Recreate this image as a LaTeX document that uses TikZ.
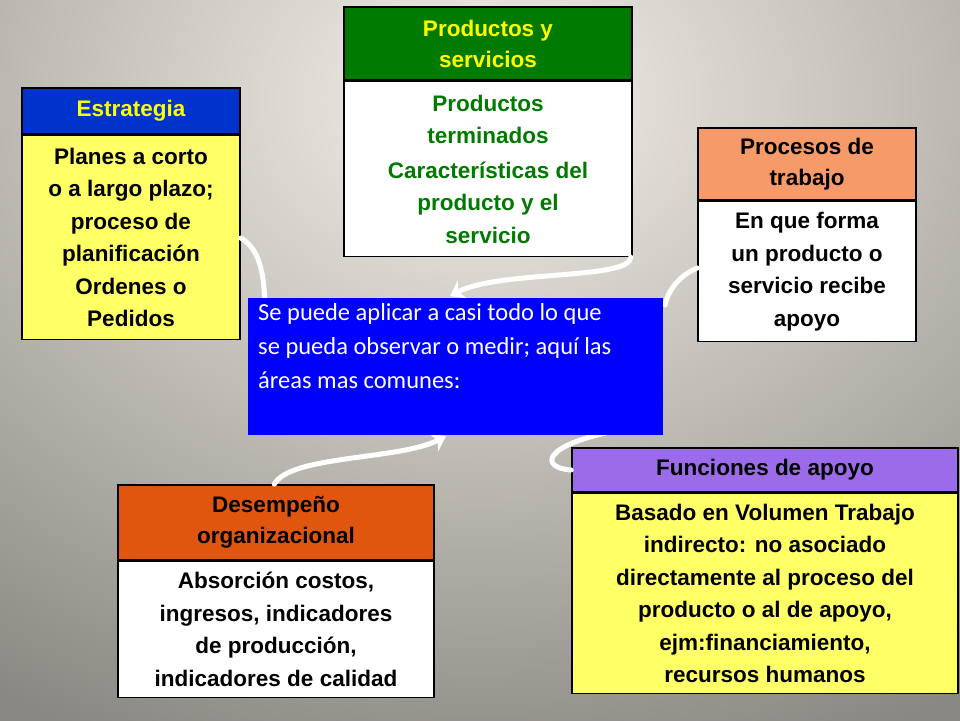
\documentclass[tikz,border=0pt]{standalone}
\usepackage{fontspec}
\setmainfont{Liberation Sans}
\newfontfamily\calfont{Carlito}
\usetikzlibrary{positioning,arrows.meta}
\definecolor{bgin}{HTML}{F2F0E8}
\definecolor{bgout}{HTML}{8A8882}
\definecolor{estblue}{HTML}{0033CC}
\definecolor{lightyel}{HTML}{FFFF66}
\definecolor{prodgreen}{HTML}{007A00}
\definecolor{procsalmon}{HTML}{F79A6A}
\definecolor{desorange}{HTML}{E0560E}
\definecolor{funcpurple}{HTML}{9B6BEA}
\definecolor{titleyel}{HTML}{FFFF00}
\begin{document}
\begin{tikzpicture}[x=1pt,y=-1pt,
    head/.style={draw,line width=1.5pt,inner sep=0pt,align=center,
      font=\bfseries\fontsize{22.5}{31}\selectfont},
    body/.style={draw,line width=1.5pt,inner sep=0pt,align=center,
      font=\bfseries\fontsize{22.5}{32.5}\selectfont},
    flow/.style={white,line width=5pt,line cap=round},
    flowtip/.style={flow,-{Stealth[length=14pt,width=20pt]}}]

    \useasboundingbox (0,0) rectangle (960,720);
    \begin{scope}
        \clip (0,0) rectangle (960,720);
        \shade[inner color=bgin,outer color=bgout] (-420,-600) rectangle (1380,800);
    \end{scope}

    % Cajas
    \node[head,fill=estblue,text=titleyel,minimum width=218,minimum height=46] (estH) at (131,111) {Estrategia};
    \node[body,fill=lightyel,minimum width=218,minimum height=204,below=0pt of estH] (estB)
      {Planes a corto\\o a largo plazo;\\proceso de\\planificación\\Ordenes o\\Pedidos};

    \node[head,fill=prodgreen,text=titleyel,minimum width=288,minimum height=73] (prodH) at (488,43.5) {Productos y\\servicios};
    \node[body,fill=white,text=prodgreen,minimum width=288,minimum height=175,below=0pt of prodH] (prodB)
      {Productos\\terminados\\[2pt]Características del\\producto y el\\servicio};

    \node[head,fill=procsalmon,minimum width=218,minimum height=72] (procH) at (807,164) {Procesos de\\trabajo};
    \node[body,fill=white,minimum width=218,minimum height=140,below=0pt of procH] (procB)
      {En que forma\\un producto o\\servicio recibe\\apoyo};

    \node[head,fill=desorange,minimum width=316,minimum height=75] (desH) at (276,522.5) {Desempeño\\organizacional};
    \node[body,fill=white,minimum width=316,minimum height=136,below=0pt of desH] (desB)
      {Absorción costos,\\ingresos, indicadores\\de producción,\\indicadores de calidad};

    \node[head,fill=funcpurple,minimum width=386,minimum height=44] (funH) at (765,470) {Funciones de apoyo};
    \node[body,fill=lightyel,minimum width=386,minimum height=200,below=0pt of funH] (funB)
      {Basado en Volumen Trabajo\\indirecto: no asociado\\directamente al proceso del\\producto o al de apoyo,\\ejm:financiamiento,\\recursos humanos};

    % Flechas
    \coordinate (c1) at (265,305);
    \coordinate (c2) at (450,296);
    \coordinate (c3) at (665,305);
    \coordinate (c4) at (446,436);
    \coordinate (c5) at (620,430);
    \draw[flow] (estB.east |- 0,238) .. controls (262,250) and (264,280) .. (c1);
    \draw[flowtip] (prodB.south east) ++(-2,0) .. controls (630,280) and (500,270) .. (c2);
    \draw[flow] (procB.west |- 0,268) .. controls (680,275) and (668,290) .. (c3);
    \draw[flowtip] (desH.north west) ++(157,0) .. controls (290,455) and (400,460) .. (c4);
    \draw[flow] (funH.west) .. controls (540,468) and (540,445) .. (c5);

    \node[fill=blue,text=white,minimum width=415,minimum height=137,inner sep=0pt] (centro) at (455.5,366.5) {};
    \node[text=white,anchor=north west,align=left,inner sep=0pt,
      font=\calfont\fontsize{24.5}{34}\selectfont] (centroT) at (258,303)
      {Se puede aplicar a casi todo lo que\\se pueda observar o medir; aquí las\\áreas mas comunes:};
\end{tikzpicture}
\end{document}
